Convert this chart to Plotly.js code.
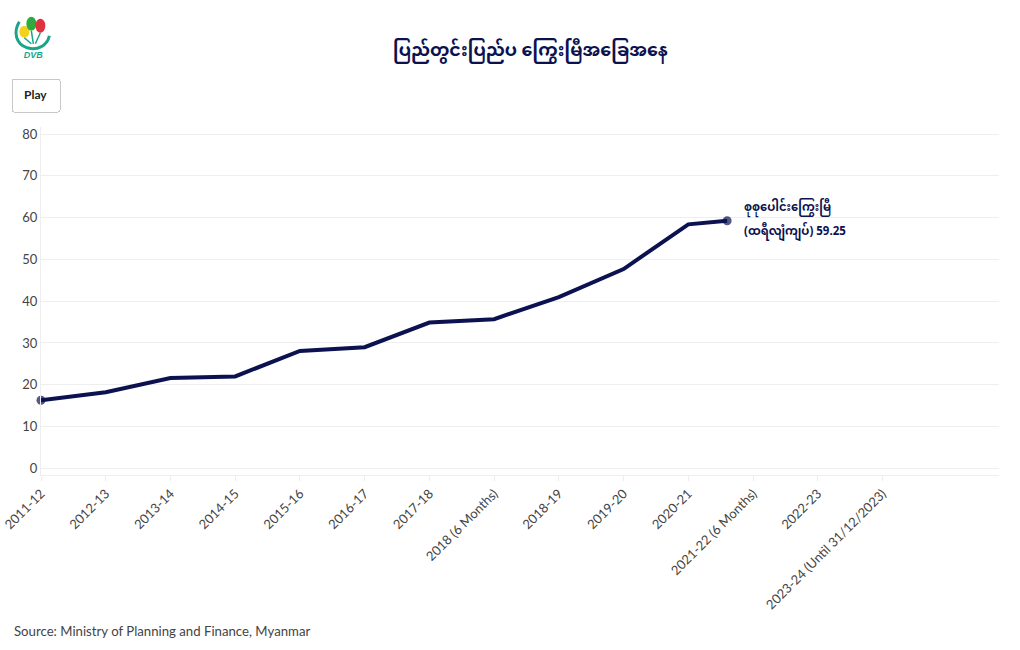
<!DOCTYPE html>
<html>
<head>
<meta charset="utf-8">
<script src="https://cdn.plot.ly/plotly-3.0.1.min.js"></script>
<style>
  html, body { margin: 0; padding: 0; background: #fff; }
  #chart { width: 1020px; height: 650px; }
</style>
</head>
<body>
<div id="chart"></div>
<script>
// Fiscal periods shown on the x axis
const periods = [
  '2011-12', '2012-13', '2013-14', '2014-15', '2015-16', '2016-17',
  '2017-18', '2018 (6 Months)', '2018-19', '2019-20', '2020-21',
  '2021-22 (6 Months)', '2022-23', '2023-24 (Until 31/12/2023)'
];

// Where each point sits on the period axis (last one is mid-animation)
const pointPos = [0, 1, 2, 3, 4, 5, 6, 7, 8, 9, 10, 10.6];

// Total debt, trillion kyat
const totalDebt = [16.3, 18.2, 21.6, 22.0, 28.1, 29.0, 34.9, 35.7, 41.0, 47.7, 58.4, 59.25];

const navy = '#0c1250';
const font = 'Lato, "Noto Sans", "Noto Sans Myanmar", Padauk, sans-serif';
const mmFont = '"Noto Sans Myanmar", Padauk, "Myanmar Text", "Noto Sans", sans-serif';

const lastIdx = totalDebt.length - 1;
const markerSizes = totalDebt.map((v, i) => (i === 0 || i === lastIdx) ? 9 : 0);

const trace = {
  x: pointPos,
  y: totalDebt,
  type: 'scatter',
  mode: 'lines+markers',
  line: { color: navy, width: 4 },
  marker: { color: navy, size: markerSizes, line: { width: 0 } },
  cliponaxis: false,
  hovertemplate: '%{y}<extra></extra>'
};

// Small logo drawn as inline svg
const logoSvg = `<svg xmlns="http://www.w3.org/2000/svg" width="44" height="50" viewBox="0 0 44 50">
  <path d="M8 12 C2 22 4 34 16 38 C26 41 36 36 38 26" fill="none" stroke="#1aa58a" stroke-width="3"/>
  <ellipse cx="13" cy="22" rx="5" ry="6" fill="#f2d21b"/>
  <ellipse cx="20" cy="14" rx="5" ry="7" fill="#2eaa3e"/>
  <ellipse cx="29" cy="16" rx="5" ry="7" fill="#e0323c"/>
  <path d="M20 21 L22 34 M29 23 L24 34 M13 28 L20 34" stroke="#1aa58a" stroke-width="1.5"/>
  <text x="22" y="48" font-family="sans-serif" font-size="9" font-style="italic" font-weight="bold" fill="#1aa58a" text-anchor="middle">DVB</text>
</svg>`;

// Label next to the last point, two lines set apart like the source
const labelLines = ['<b>စုစုပေါင်းကြွေးမြီ</b>', '<b>(ထရီလျံကျပ်) ' + totalDebt[lastIdx] + '</b>'];
const labelNotes = labelLines.map((txt, i) => ({
  x: pointPos[lastIdx],
  y: totalDebt[lastIdx],
  xref: 'x', yref: 'y',
  xanchor: 'left', yanchor: 'middle',
  xshift: 15,
  yshift: i === 0 ? 12 : -12,
  align: 'left',
  showarrow: false,
  text: txt,
  font: { family: mmFont, size: 11.5, color: navy }
}));

const layout = {
  width: 1020,
  height: 650,
  margin: { t: 127, l: 40, r: 21, b: 175 },
  paper_bgcolor: '#fff',
  plot_bgcolor: '#fff',
  showlegend: false,
  font: { family: font, color: '#444', size: 13 },
  title: {
    text: '<b>ပြည်တွင်းပြည်ပ ကြွေးမြီအခြေအနေ</b>',
    font: { family: mmFont, size: 17.5, color: navy },
    x: 0.52, xanchor: 'center',
    y: 0.923, yanchor: 'middle'
  },
  xaxis: {
    range: [0, 14.8],
    tickmode: 'array',
    tickvals: periods.map((p, i) => i),
    ticktext: periods,
    tickangle: -45,
    showgrid: false,
    zeroline: false,
    showline: true,
    linecolor: '#eeeeee',
    ticks: 'outside',
    ticklen: 5,
    tickcolor: '#eeeeee',
    tickfont: { family: font, size: 13, color: '#444' }
  },
  yaxis: {
    range: [-1.6, 81.7],
    dtick: 10,
    showgrid: true,
    gridcolor: '#eeeeee',
    zeroline: false,
    showline: true,
    linecolor: '#eeeeee',
    tickfont: { family: font, size: 13, color: '#444' }
  },
  annotations: labelNotes.concat([
    {
      x: -0.0302, y: -0.448,
      xref: 'paper', yref: 'paper',
      xanchor: 'left', yanchor: 'middle',
      showarrow: false,
      text: 'Source: Ministry of Planning and Finance, Myanmar',
      font: { family: font, size: 13.2, color: '#444' }
    }
  ]),
  images: [{
    source: 'data:image/svg+xml;charset=utf-8,' + encodeURIComponent(logoSvg),
    xref: 'paper', yref: 'paper',
    x: -0.031, y: 1.34,
    sizex: 0.046, sizey: 0.15,
    xanchor: 'left', yanchor: 'top',
    sizing: 'contain'
  }],
  updatemenus: [{
    type: 'buttons',
    showactive: false,
    x: -0.0302, y: 1.141,
    xanchor: 'left', yanchor: 'top',
    pad: { t: 0, r: 0, b: 0, l: 0 },
    bgcolor: '#fff',
    bordercolor: '#c8c8c8',
    font: { family: font, size: 12, color: '#222', weight: 'bold' },
    buttons: [{
      label: 'Play',
      method: 'animate',
      args: [null, { frame: { duration: 400, redraw: false }, transition: { duration: 300 }, fromcurrent: false }]
    }]
  }]
};

// Frames grow the line one period at a time
const frames = totalDebt.map((v, i) => ({
  name: periods[i],
  data: [{
    x: pointPos.slice(0, i + 1),
    y: totalDebt.slice(0, i + 1),
    marker: { size: markerSizes.slice(0, i).concat([9]) }
  }]
}));

const config = { responsive: false, displayModeBar: false };

Plotly.newPlot('chart', [trace], layout, config).then(gd => {
  Plotly.addFrames(gd, frames);
});
</script>
</body>
</html>
